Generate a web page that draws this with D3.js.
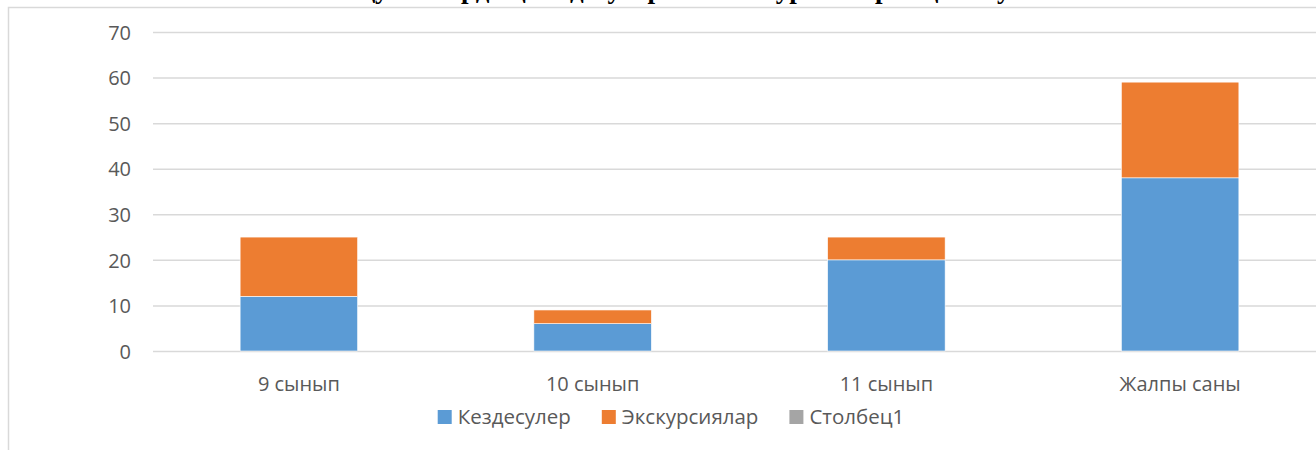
<!DOCTYPE html>
<html lang="kk">
<head>
<meta charset="UTF-8">
<title>Кездесулер мен экскурсиялар</title>
<style>
  body { margin: 0; background: #fff; overflow: hidden; }
  svg { display: block; }
  .tick text, .cat, .legend text { font-family: "Open Sans", "Noto Sans", sans-serif; fill: #595959; }
  .title { font-family: "Liberation Serif", "DejaVu Serif", serif; font-weight: bold; fill: #000; }
</style>
</head>
<body>
<svg></svg>
<script src="https://d3js.org/d3.v7.min.js"></script>
<script>
// data
const categories = ["9 сынып", "10 сынып", "11 сынып", "Жалпы саны"];
const seriesNames = ["Кездесулер", "Экскурсиялар", "Столбец1"];
const meetings = [12, 6, 20, 38];
const excursions = [13, 3, 5, 21];
const column1 = [0, 0, 0, 0];
const yTicks = [0, 10, 20, 30, 40, 50, 60, 70];
const colors = ["#5B9BD5", "#ED7D31", "#A5A5A5"];

const width = 1316, height = 450;
const svg = d3.select("svg").attr("width", width).attr("height", height);

// chart frame (partly cut off by the screenshot)
svg.append("rect")
    .attr("x", 8.5).attr("y", 7.5)
    .attr("width", width + 20).attr("height", height + 20)
    .attr("fill", "none").attr("stroke", "#d9d9d9").attr("stroke-width", 1.5);

// title, only its bottom edge is visible above the frame
svg.append("text")
    .attr("class", "title")
    .attr("x", 685).attr("y", -2.5)
    .attr("text-anchor", "middle")
    .style("font-size", "27px")
    .text("Оқушылардың кездесулер мен экскурсияларға қатысуы");

const x = d3.scaleBand().domain(categories).range([152, 1327])
    .paddingInner(0.6).paddingOuter(0.3);
const y = d3.scaleLinear().domain([0, 70]).range([351, 32]);

// gridlines + y labels
const yAxis = svg.append("g")
    .attr("transform", "translate(153,0)")
    .call(d3.axisLeft(y).tickValues(yTicks).tickSize(-(width - 153)).tickPadding(22));
yAxis.select(".domain").remove();
yAxis.selectAll(".tick line").attr("stroke", "#d9d9d9").attr("stroke-width", 1.5);
yAxis.selectAll(".tick text").style("font-size", "20px").attr("dy", "0.36em");

// stacked bars
const rows = categories.map((c, i) => ({
  cat: c, "Кездесулер": meetings[i], "Экскурсиялар": excursions[i], "Столбец1": column1[i]
}));
const stacked = d3.stack().keys(seriesNames)(rows);

svg.append("g").selectAll("g")
  .data(stacked)
  .join("g")
    .attr("fill", (d, i) => colors[i])
  .selectAll("rect")
  .data(d => d.filter(p => p[1] - p[0] > 0))
  .join("rect")
    .attr("x", d => x(d.data.cat))
    .attr("y", d => y(d[1]))
    .attr("width", x.bandwidth())
    .attr("height", d => y(d[0]) - y(d[1]))
    .attr("stroke", "#fff").attr("stroke-width", 0.6);

// category labels
svg.append("g").selectAll("text")
  .data(categories)
  .join("text")
    .attr("class", "cat")
    .attr("x", d => x(d) + x.bandwidth() / 2)
    .attr("y", 391)
    .attr("text-anchor", "middle")
    .style("font-size", "20px")
    .text(d => d);

// legend
const legend = svg.append("g").attr("class", "legend");
const items = legend.selectAll("g").data(seriesNames).join("g");
items.append("rect").attr("width", 14).attr("height", 14).attr("y", -14)
    .attr("fill", (d, i) => colors[i]);
items.append("text").attr("x", 20)
    .style("font-size", "20.5px").text(d => d);
const widths = [];
items.each(function () { widths.push(20 + d3.select(this).select("text").node().getComputedTextLength()); });
const gap = 31;
const total = d3.sum(widths) + gap * (widths.length - 1);
let start = 671 - total / 2;
items.attr("transform", (d, i) => {
  const t = `translate(${start},424)`;
  start += widths[i] + gap;
  return t;
});
</script>
</body>
</html>
